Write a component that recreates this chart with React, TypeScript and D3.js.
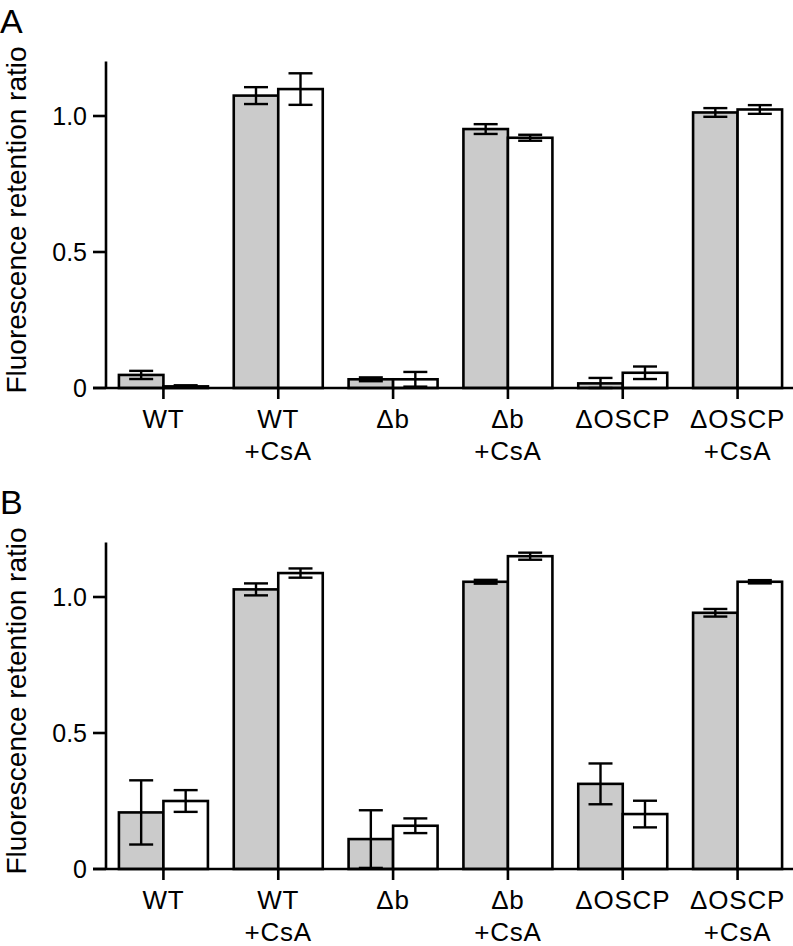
import React from 'react';
import * as d3 from 'd3';

const W = 793;
const H = 946;
const FONT = '"Liberation Sans", Arial, Helvetica, sans-serif';

// categories (two-line tick labels)
const categories = ['WT', 'WT+CsA', 'Δb', 'Δb+CsA', 'ΔOSCP', 'ΔOSCP+CsA'];
const labelLines = [['WT'], ['WT', '+CsA'], ['Δb'], ['Δb', '+CsA'], ['ΔOSCP'], ['ΔOSCP', '+CsA']];
const series = ['gray', 'white'];
const yTicks = [0, 0.5, 1.0];

// panel A
const aGray = [0.048, 1.075, 0.032, 0.952, 0.017, 1.013];
const aGrayErr = [0.015, 0.031, 0.007, 0.018, 0.02, 0.016];
const aWhite = [0.006, 1.099, 0.032, 0.92, 0.056, 1.024];
const aWhiteErr = [0.004, 0.058, 0.027, 0.011, 0.023, 0.016];

// panel B
const bGray = [0.208, 1.028, 0.11, 1.056, 0.313, 0.942];
const bGrayErr = [0.118, 0.022, 0.106, 0.007, 0.075, 0.014];
const bWhite = [0.25, 1.088, 0.159, 1.15, 0.202, 1.056];
const bWhiteErr = [0.04, 0.017, 0.027, 0.013, 0.049, 0.006];

const fills: Record<string, string> = { gray: '#cbcbcb', white: '#ffffff' };

function Panel({ label, base, gray, grayErr, white, whiteErr }: any) {
  const axisX = 106;
  const y = d3.scaleLinear().domain([0, 1.2]).range([base, base - 326.4]);
  const x0 = d3.scaleBand().domain(categories).range([axisX, 795]).padding(0);
  const inner = x0.bandwidth() * 0.775;
  const x1 = d3.scaleBand().domain(series)
    .range([(x0.bandwidth() - inner) / 2, (x0.bandwidth() + inner) / 2]).padding(0);

  const rows = categories.map((c, i) => ({
    c,
    vals: [
      { s: 'gray', v: gray[i], e: grayErr[i] },
      { s: 'white', v: white[i], e: whiteErr[i] },
    ],
  }));

  return (
    <g>
      <text x={0} y={base - 355} fontSize={34} fontFamily={FONT}>{label}</text>
      <text
        transform={`translate(26,${base - 168}) rotate(-90)`}
        textAnchor="middle" fontSize={28} fontFamily={FONT}
      >Fluorescence retention ratio</text>

      {rows.map(r => (
        <g key={r.c} transform={`translate(${x0(r.c)},0)`}>
          {r.vals.map(d => (
            <rect key={d.s}
              x={x1(d.s)} y={y(d.v)} width={x1.bandwidth()} height={base - y(d.v)}
              fill={fills[d.s]} stroke="#000" strokeWidth={2.6} />
          ))}
          {r.vals.map(d => {
            const cx = (x1(d.s) as number) + x1.bandwidth() / 2;
            const lo = y(Math.max(0, d.v - d.e));
            const hi = y(d.v + d.e);
            return (
              <g key={d.s + 'e'} stroke="#000" strokeWidth={2.4}>
                <line x1={cx} x2={cx} y1={lo} y2={hi} />
                <line x1={cx - 12} x2={cx + 12} y1={hi} y2={hi} />
                <line x1={cx - 12} x2={cx + 12} y1={lo} y2={lo} />
              </g>
            );
          })}
        </g>
      ))}

      {/* axes */}
      <line x1={axisX} x2={axisX} y1={y(1.2)} y2={base} stroke="#000" strokeWidth={2.6} />
      <line x1={93} x2={W} y1={base} y2={base} stroke="#000" strokeWidth={2.6} />
      {yTicks.map(t => (
        <g key={t}>
          <line x1={93} x2={axisX} y1={y(t)} y2={y(t)} stroke="#000" strokeWidth={2.6} />
          <text x={87} y={y(t) + 9} textAnchor="end" fontSize={25} fontFamily={FONT}>
            {t === 0 ? '0' : d3.format('.1f')(t)}
          </text>
        </g>
      ))}
      {categories.map((c, i) => {
        const cx = (x0(c) as number) + x0.bandwidth() / 2;
        return (
          <g key={c}>
            <line x1={cx} x2={cx} y1={base} y2={base + 11} stroke="#000" strokeWidth={2.6} />
            {labelLines[i].map((s, j) => (
              <text key={j} x={cx} y={base + 40 + j * 32} textAnchor="middle"
                fontSize={26} letterSpacing={0.8} fontFamily={FONT}>{s}</text>
            ))}
          </g>
        );
      })}
    </g>
  );
}

export default function App() {
  return (
    <div style={{ position: 'absolute', left: 0, top: 0 }}>
      <svg width={W} height={H} style={{ display: 'block', background: '#fff' }}>
        <Panel label="A" base={388} gray={aGray} grayErr={aGrayErr} white={aWhite} whiteErr={aWhiteErr} />
        <Panel label="B" base={869} gray={bGray} grayErr={bGrayErr} white={bWhite} whiteErr={bWhiteErr} />
      </svg>
    </div>
  );
}
